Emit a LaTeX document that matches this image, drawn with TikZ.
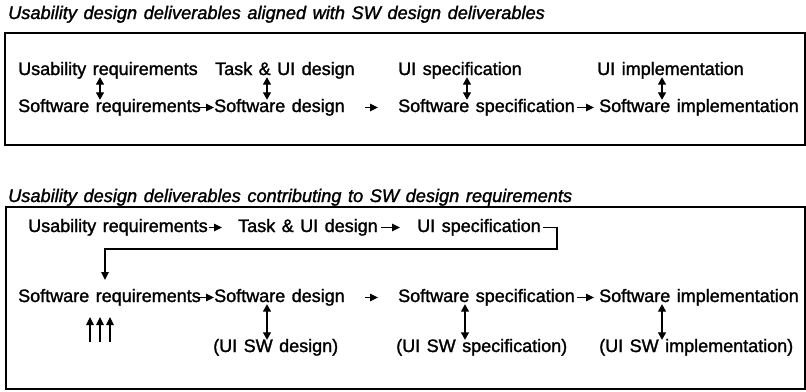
\documentclass[tikz,border=0pt]{standalone}
\usepackage{fontspec}
\setmainfont{Liberation Sans}[WordSpace=1.3, FakeBold=1.5]
\usetikzlibrary{arrows.meta}
\tikzset{
  lbl/.style={font=\fontsize{18}{21}\selectfont, inner sep=0pt, anchor=base west, text height=13pt, text depth=4pt},
  ttl/.style={font=\fontsize{18.2}{21}\selectfont\itshape, inner sep=0pt, anchor=base west},
  frame/.style={draw, line width=1.2pt},
  tip/.style={line width=1.3pt, -{Triangle[length=8pt,width=7.5pt]}},
  dbl/.style={line width=1.3pt, shorten <=-2pt, shorten >=-1pt, {Triangle[length=7.5pt,width=8pt]}-{Triangle[length=7.5pt,width=8pt]}},
}
\begin{document}
\begin{tikzpicture}[x=1pt,y=-1pt]
\useasboundingbox (0,0) rectangle (806,391);
% ---------- top panel ----------
\node[ttl] (t1) at (8,19) {Usability design deliverables aligned with SW design deliverables};
\draw[frame] (5,33) rectangle (805,145);
\node[lbl] (ur1) at (18,75) {Usability requirements};
\node[lbl] (tu1) at (215,75) {Task \& UI design};
\node[lbl] (us1) at (398,75) {UI specification};
\node[lbl] (ui1) at (597,75) {UI implementation};
\node[lbl] (sr1) at (18,112) {Software requirements};
\node[lbl] (sd1) at (214,112) {Software design};
\node[lbl] (ss1) at (398,112) {Software specification};
\node[lbl] (si1) at (599,112) {Software implementation};
\coordinate (xa) at (100,0);
\coordinate (xb) at (267,0);
\coordinate (xc) at (467,0);
\coordinate (xd) at (662,0);
\draw[dbl] (ur1.south -| xa) -- (sr1.north -| xa);
\draw[dbl] (tu1.south -| xb) -- (sd1.north -| xb);
\draw[dbl] (us1.south -| xc) -- (ss1.north -| xc);
\draw[dbl] (ui1.south -| xd) -- (si1.north -| xd);
\draw[tip, shorten <=-2pt] (sr1.east) -- (sd1.west);
\draw[tip, shorten <=20pt, shorten >=20pt] (sd1.east) -- (ss1.west);
\draw[tip, shorten <=2pt, shorten >=5pt] (ss1.east) -- (si1.west);
% ---------- bottom panel ----------
\node[ttl] (t2) at (8,202) {Usability design deliverables contributing to SW design requirements};
\draw[frame] (6,207) rectangle (805,389);
\node[lbl] (ur2) at (28,232) {Usability requirements};
\node[lbl] (tu2) at (238,232) {Task \& UI design};
\node[lbl] (us2) at (417,232) {UI specification};
\node[lbl] (sr2) at (18,302) {Software requirements};
\node[lbl] (sd2) at (214,302) {Software design};
\node[lbl] (ss2) at (398,302) {Software specification};
\node[lbl] (si2) at (599,302) {Software implementation};
\node[lbl] (ud2) at (213,352) {(UI SW design)};
\node[lbl] (uss2) at (396,352) {(UI SW specification)};
\node[lbl] (uim2) at (599,352) {(UI SW implementation)};
\draw[tip, shorten <=1pt, shorten >=16pt] (ur2.east) -- (tu2.west);
\draw[tip, shorten <=3pt, shorten >=17pt] (tu2.east) -- (us2.west);
\draw[tip, shorten <=-2pt] (sr2.east) -- (sd2.west);
\draw[tip, shorten <=20pt, shorten >=20pt] (sd2.east) -- (ss2.west);
\draw[tip, shorten <=2pt, shorten >=5pt] (ss2.east) -- (si2.west);
\coordinate (bend) at (557,249);
\coordinate (drop) at (105,280);
\draw[tip, shorten <=2pt] (us2.east) -| (bend) -| (drop);
\draw[dbl] (sd2.south -| xb) -- (ud2.north -| xb);
\coordinate (xc2) at (465,0);
\draw[dbl] (ss2.south -| xc2) -- (uss2.north -| xc2);
\draw[dbl] (si2.south -| xd) -- (uim2.north -| xd);
\coordinate (ua) at (90,342);
\coordinate (ub) at (100,342);
\coordinate (uc) at (110,342);
\draw[tip] (ua) -- ++(0,-25);
\draw[tip] (ub) -- ++(0,-25);
\draw[tip] (uc) -- ++(0,-25);
\end{tikzpicture}
\end{document}
